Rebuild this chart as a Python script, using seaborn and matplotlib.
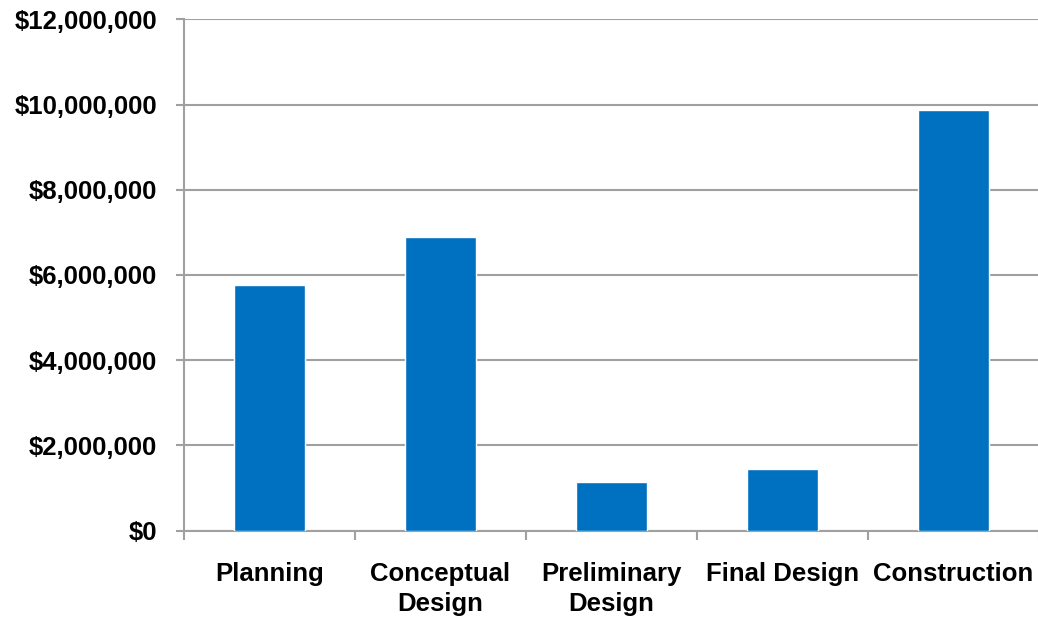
import matplotlib
matplotlib.use("Agg")
import matplotlib.pyplot as plt
import seaborn as sns
import pandas as pd
from matplotlib.ticker import FuncFormatter

categories = ["Planning", "Conceptual\nDesign", "Preliminary\nDesign", "Final Design", "Construction"]
values = [5770000, 6900000, 1150000, 1450000, 9870000]

df = pd.DataFrame({"phase": categories, "cost": values})

sns.set_theme(style="white")
plt.rcParams['font.family'] = ['Liberation Sans', 'DejaVu Sans']
plt.rcParams['font.weight'] = 'bold'
plt.rcParams['text.color'] = 'black'
plt.rcParams['xtick.labelcolor'] = 'black'
plt.rcParams['ytick.labelcolor'] = 'black'

fig = plt.figure(figsize=(10.38, 6.18), dpi=100)
ax = fig.add_axes([184/1038, 1-530.7/618, (1039-184)/1038, (530.7-19.3)/618])

sns.barplot(data=df, x="phase", y="cost", color="#0070C0", saturation=1, width=0.41, ax=ax, zorder=3)

grid_c = "#a0a0a0"
ax.set_ylim(0, 12000000)
ax.set_xlim(-0.5, 4.5)
ax.set_yticks(range(0, 12000001, 2000000))
ax.yaxis.set_major_formatter(FuncFormatter(lambda v, p: "${:,.0f}".format(v)))
ax.yaxis.grid(True, color=grid_c, linewidth=1.5, zorder=0)
ax.set_axisbelow(True)

ax.set_xticks([i - 0.5 for i in range(6)])
ax.set_xticklabels([""] * 6)
ax.set_xticks(range(5), minor=True)
ax.set_xticklabels(categories, minor=True, fontsize=18.5, fontweight='bold', linespacing=1.3, color='black')
ax.tick_params(axis='x', which='major', length=6.5, width=1.5, color=grid_c, direction='out', bottom=True)
ax.tick_params(axis='x', which='minor', length=0, pad=22.5, bottom=True)
ax.tick_params(axis='y', length=5.8, width=1.5, color=grid_c, direction='out', left=True, pad=13.6, labelsize=18.5)
for lab in ax.get_yticklabels():
    lab.set_fontweight('bold')
    lab.set_color('black')

for s in ["top", "right"]:
    ax.spines[s].set_visible(False)
for s in ["left", "bottom"]:
    ax.spines[s].set_color(grid_c)
    ax.spines[s].set_linewidth(1.5)

ax.set_xlabel("")
ax.set_ylabel("")

fig.savefig("out.png", dpi=100)
